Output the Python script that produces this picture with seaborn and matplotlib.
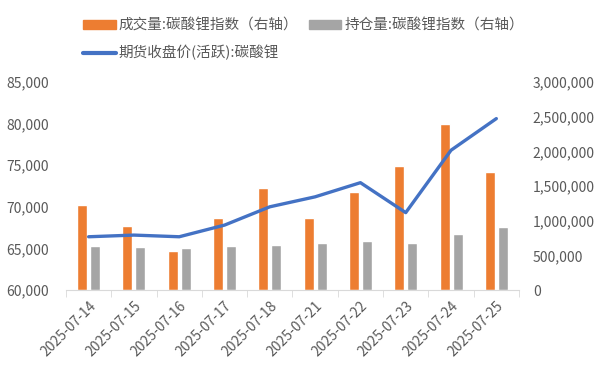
import matplotlib
matplotlib.use('Agg')
import matplotlib.pyplot as plt
import matplotlib.ticker as mticker
import seaborn as sns
import numpy as np
import pandas as pd

dates = ['2025-07-14', '2025-07-15', '2025-07-16', '2025-07-17', '2025-07-18',
         '2025-07-21', '2025-07-22', '2025-07-23', '2025-07-24', '2025-07-25']
close_price = [66400, 66600, 66400, 67800, 70000, 71200, 72900, 69300, 76800, 80600]
volume = [1228000, 925000, 564000, 1040000, 1474000, 1040000, 1416000, 1792000, 2399000, 1705000]
open_interest = [636000, 621000, 607000, 636000, 650000, 679000, 708000, 679000, 809000, 910000]

vol_name = '成交量:碳酸锂指数（右轴）'
oi_name = '持仓量:碳酸锂指数（右轴）'
line_name = '期货收盘价(活跃):碳酸锂'

sns.set_style('white')
plt.rcParams['font.family'] = ['Noto Sans CJK SC', 'DejaVu Sans']
text_color = '#595959'

bars = pd.DataFrame({
    'date': dates * 2,
    'value': volume + open_interest,
    'series': [vol_name] * len(dates) + [oi_name] * len(dates),
})
line = pd.DataFrame({'date': dates, 'price': close_price})

fig = plt.figure(figsize=(6.02, 3.71), dpi=100)
ax = fig.add_axes([0.1096, 0.2183, 0.7525, 0.5607])
sns.barplot(data=bars, x='date', y='value', hue='series',
            palette=['#ED7D31', '#A5A5A5'], width=0.574, gap=0.23,
            saturation=1, ax=ax, legend=False)
ax2 = ax.twinx()
sns.lineplot(data=line, x='date', y='price', color='#4472C4', linewidth=2.4,
             ax=ax2, sort=False)

# bars on right axis, line on left axis
ax.yaxis.tick_right()
ax.yaxis.set_label_position('right')
ax2.yaxis.tick_left()
ax2.yaxis.set_label_position('left')

ax.set_ylim(0, 3000000)
ax.set_yticks(np.arange(0, 3000001, 500000))
ax2.set_ylim(60000, 85000)
ax2.set_yticks(np.arange(60000, 85001, 5000))
fmt = mticker.FuncFormatter(lambda v, p: '{:,.0f}'.format(v))
ax.yaxis.set_major_formatter(fmt)
ax2.yaxis.set_major_formatter(fmt)

ax.set_xlim(-0.5, len(dates) - 0.5)
ax.set_xticks(range(len(dates)))
ax.set_xticklabels(dates, rotation=45, ha='right', rotation_mode='anchor')
ax.set_xticks(np.arange(-0.5, len(dates), 1), minor=True)

for a in (ax, ax2):
    a.set_xlabel('')
    a.set_ylabel('')
    for s in a.spines.values():
        s.set_visible(False)
    a.tick_params(axis='y', length=0, labelsize=10, labelcolor=text_color)
ax.tick_params(axis='y', pad=10)
ax2.tick_params(axis='y', pad=12.5)
ax2.spines['bottom'].set_visible(True)
ax2.spines['bottom'].set_color('#D9D9D9')
ax.tick_params(axis='x', which='major', length=0, labelsize=10,
               labelcolor=text_color, pad=6)
ax.tick_params(axis='x', which='minor', length=5, color='#D9D9D9', bottom=True)

handles = [
    plt.Rectangle((0, 0), 1, 1, color='#ED7D31'),
    plt.Line2D([], [], color='#4472C4', linewidth=3),
    plt.Rectangle((0, 0), 1, 1, color='#A5A5A5'),
]
labels = [vol_name, line_name, oi_name]
fig.legend(handles, labels, ncol=2, loc='upper left', bbox_to_anchor=(0.116, 0.985),
           frameon=False, fontsize=10.5, labelcolor=text_color,
           handlelength=2.25, handleheight=0.62, handletextpad=0.2,
           columnspacing=0.7, labelspacing=0.85)

fig.savefig('out.png', dpi=100)
